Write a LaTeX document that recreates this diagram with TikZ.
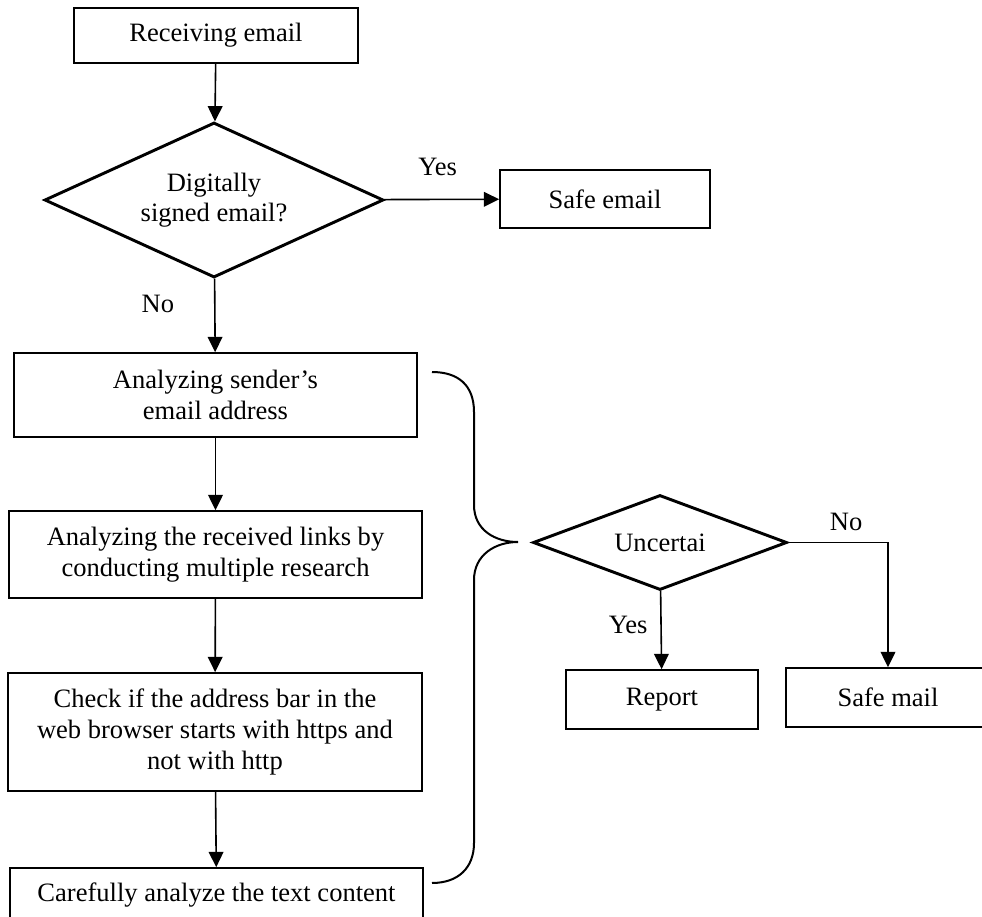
\documentclass[tikz,border=0pt]{standalone}
\usepackage{fontspec}
\setmainfont{Liberation Serif}
\usetikzlibrary{shapes.geometric,arrows.meta}

\begin{document}
\begin{tikzpicture}[x = 0.75pt, y = -0.75pt,
    every node/.style = {font = \fontsize{19.9}{22.9}\selectfont},
    box/.style = {draw, line width = 1.2pt, align = center, inner sep = 0pt},
    decision/.style = {draw, diamond, line width = 2.2pt, inner sep = 0pt},
    flow/.style = {line width = 1.2pt, -{Triangle[length = 11.5pt, width = 11pt]}}]

\clip (0,0) rectangle (982,917);

\node[box, minimum width = 213pt, minimum height = 41.25pt] (recv) at (216,35.5) {Receiving email};
\node[decision, minimum width = 254.25pt, minimum height = 116.25pt,
    label = {[align = center]center:Digitally\\signed email?}] (signed) at (214,200) {};
\node[box, minimum width = 157.5pt, minimum height = 43.5pt] (safe) at (605,199) {Safe email};

\node[box, minimum width = 302.25pt, minimum height = 63pt] (sender) at (215.5,395) {Analyzing sender's\\email address};
\node[box, minimum width = 309.75pt, minimum height = 65.25pt] (links) at (215.5,554.5) {Analyzing the received links by\\conducting multiple research};
\node[box, minimum width = 310.5pt, minimum height = 88.5pt] (https) at (215,732) {Check if the address bar in the\\web browser starts with https and\\not with http};
\node[box, minimum width = 309.75pt, minimum height = 40.5pt] (content) at (216.5,895) {Carefully analyze the text content};

\node[decision, minimum width = 190.5pt, minimum height = 71.25pt, label = center:Uncertai] (unsure) at (660,542.5) {};
\node[box, minimum width = 144pt, minimum height = 44.25pt] (report) at (662,699.5) {Report};
\node[box, minimum width = 153pt, minimum height = 44.25pt] (safemail) at (888,697.5) {Safe mail};

\draw [flow] (recv) -- (signed);
\draw [flow] (signed) -- node[xshift = -3pt, yshift = 24pt] {Yes} (safe);
\draw [flow] (signed) -- node[xshift = -42.75pt, yshift = 9pt] {No} (sender);
\draw [flow] (sender) -- (links);
\draw [flow] (links) -- (https);
\draw [flow] (https) -- (content);

\draw [flow] (unsure) -- node[xshift = -24.75pt, yshift = 3.75pt] {Yes} (report);
\draw [flow] (unsure.east) -| node[pos = 0.29, yshift = 15.75pt] {No} (safemail.north);

\draw [line width = 1.5pt] (432,372) .. controls (458,372) and (474,385) .. (474,412) -- (474,505)
    .. controls (474,530) and (495,542) .. (518,542)
    .. controls (495,542) and (474,555) .. (474,580) -- (474,843)
    .. controls (474,868) and (458,883) .. (432,883);

\end{tikzpicture}
\end{document}
